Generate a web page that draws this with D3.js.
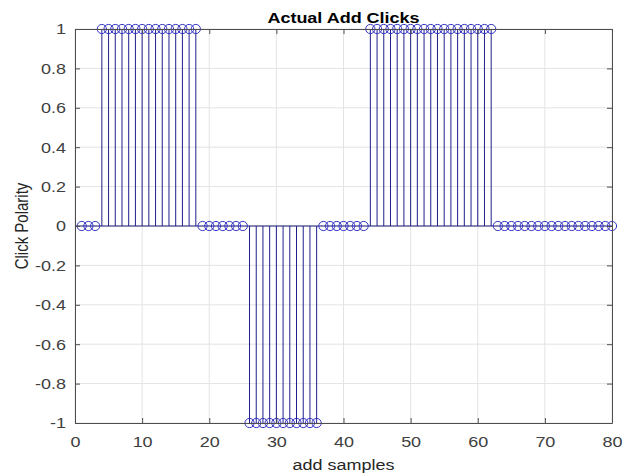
<!DOCTYPE html>
<html>
<head>
<meta charset="utf-8">
<script src="https://d3js.org/d3.v7.min.js"></script>
<style>
  body { margin: 0; background: #fff; }
  text { font-family: "Liberation Sans", Arial, sans-serif; }
</style>
</head>
<body>
<svg id="chart" width="638" height="476"></svg>
<script>
// sample index 1..80 and click polarity
var samples = d3.range(1, 81);
var polarity = [
  0, 0, 0,
  1, 1, 1, 1, 1, 1, 1, 1, 1, 1, 1, 1, 1, 1, 1,
  0, 0, 0, 0, 0, 0, 0,
  -1, -1, -1, -1, -1, -1, -1, -1, -1, -1, -1,
  0, 0, 0, 0, 0, 0, 0,
  1, 1, 1, 1, 1, 1, 1, 1, 1, 1, 1, 1, 1, 1, 1, 1, 1, 1, 1,
  0, 0, 0, 0, 0, 0, 0, 0, 0, 0, 0, 0, 0, 0, 0, 0, 0, 0
];
var xTicks = [0, 10, 20, 30, 40, 50, 60, 70, 80];
var yTicks = [-1, -0.8, -0.6, -0.4, -0.2, 0, 0.2, 0.4, 0.6, 0.8, 1];
var yTickLabels = ['-1', '-0.8', '-0.6', '-0.4', '-0.2', '0', '0.2', '0.4', '0.6', '0.8', '1'];

var W = 638, H = 476;
var m = {left: 75, right: 26, top: 29, bottom: 53};
var iw = W - m.left - m.right, ih = H - m.top - m.bottom;
var stretch = 1.2;   // the source screenshot is wider than tall, text looks stretched

var xs = d3.scaleLinear().domain([0, 80]).range([0, iw]);
var ys = d3.scaleLinear().domain([-1, 1]).range([ih, 0]);

var svg = d3.select('#chart');
var g = svg.append('g').attr('transform', 'translate(' + m.left + ',' + m.top + ')');

// grid
g.append('g').selectAll('line').data(xTicks).enter().append('line')
  .attr('x1', d => xs(d)).attr('x2', d => xs(d))
  .attr('y1', 0).attr('y2', ih)
  .attr('stroke', '#e3e3e3').attr('stroke-width', 1);
g.append('g').selectAll('line').data(yTicks).enter().append('line')
  .attr('x1', 0).attr('x2', iw)
  .attr('y1', d => ys(d)).attr('y2', d => ys(d))
  .attr('stroke', '#e3e3e3').attr('stroke-width', 1);

// baseline
g.append('line')
  .attr('x1', 0).attr('x2', iw)
  .attr('y1', ys(0)).attr('y2', ys(0))
  .attr('stroke', '#1c1c7a').attr('stroke-width', 1);

// stems
g.append('g').selectAll('line').data(samples).enter().append('line')
  .attr('x1', d => xs(d)).attr('x2', d => xs(d))
  .attr('y1', ys(0)).attr('y2', (d, i) => ys(polarity[i]))
  .attr('stroke', '#1f1f8c').attr('stroke-width', 1);

// markers
g.append('g').selectAll('circle').data(samples).enter().append('circle')
  .attr('cx', d => xs(d))
  .attr('cy', (d, i) => ys(polarity[i]))
  .attr('r', 4.6)
  .attr('fill', 'none')
  .attr('stroke', '#3333c4').attr('stroke-width', 1);

// axes (box with inward ticks)
var axisColor = '#4d4d4d';
var xb = g.append('g').attr('transform', 'translate(0,' + ih + ')')
  .call(d3.axisBottom(xs).tickValues(xTicks).tickSizeInner(-5).tickSizeOuter(0).tickPadding(13).tickFormat(d3.format('d')));
var xt = g.append('g')
  .call(d3.axisTop(xs).tickValues(xTicks).tickSizeInner(-5).tickSizeOuter(0).tickFormat(''));
var yl = g.append('g')
  .call(d3.axisLeft(ys).tickValues(yTicks).tickSizeInner(-5).tickSizeOuter(0).tickPadding(9)
    .tickFormat((d, i) => yTickLabels[i]));
var yr = g.append('g').attr('transform', 'translate(' + iw + ',0)')
  .call(d3.axisRight(ys).tickValues(yTicks).tickSizeInner(-5).tickSizeOuter(0).tickFormat(''));

[xb, xt, yl, yr].forEach(function(a) {
  a.select('.domain').attr('stroke', axisColor);
  a.selectAll('.tick line').attr('stroke', axisColor);
  a.selectAll('.tick text').attr('fill', '#404040')
    .style('font-size', '15px').style('font-family', '"Liberation Sans", Arial, sans-serif')
    .each(function() {
      var t = d3.select(this);
      var tx = +t.attr('x') || 0, ty = +t.attr('y') || 0;
      t.attr('x', 0).attr('y', 0)
        .attr('transform', 'translate(' + tx + ',' + ty + ') scale(' + stretch + ',1)');
    });
});

// title and labels
svg.append('text')
  .attr('transform', 'translate(' + (m.left + iw / 2) + ',23) scale(' + stretch + ',1)')
  .attr('text-anchor', 'middle')
  .style('font-size', '15px').style('font-weight', 'bold').attr('fill', '#000')
  .text('Actual Add Clicks');

svg.append('text')
  .attr('transform', 'translate(' + (m.left + iw / 2) + ',470) scale(' + stretch + ',1)')
  .attr('text-anchor', 'middle')
  .style('font-size', '15px').attr('fill', '#262626')
  .text('add samples');

svg.append('text')
  .attr('transform', 'translate(28,' + (m.top + ih / 2) + ') scale(' + stretch + ',1) rotate(-90)')
  .attr('text-anchor', 'middle')
  .style('font-size', '15px').attr('fill', '#262626')
  .text('Click Polarity');
</script>
</body>
</html>
